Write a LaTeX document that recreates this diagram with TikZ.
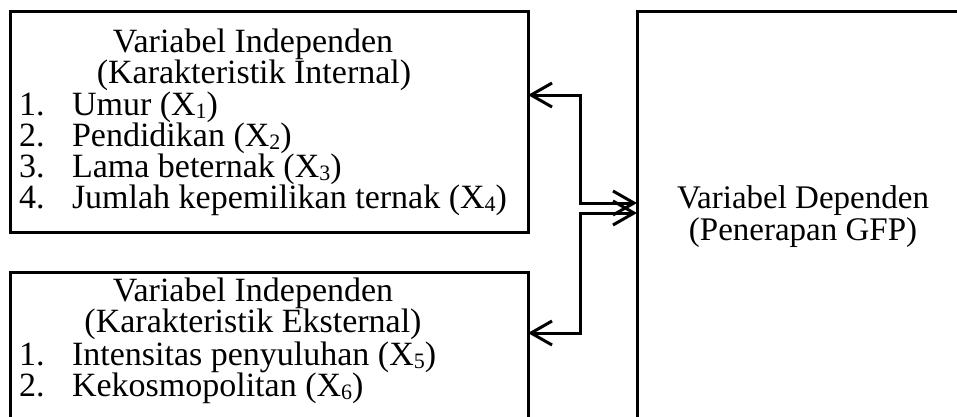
\documentclass[tikz,border=0pt]{standalone}
\usepackage{fontspec}
\setmainfont{Liberation Serif}
\usetikzlibrary{arrows.meta}
\newcommand\subx[1]{\raisebox{-3pt}{\fontsize{22}{22}\selectfont #1}}
\begin{document}
\begin{tikzpicture}[x=1pt,y=-1pt,
  boxstyle/.style={draw,line width=3pt,rectangle,outer sep=0pt,inner sep=0pt,anchor=north west},
  txt/.style={inner sep=0pt,outer sep=0pt,text height=23pt,text depth=7pt,font=\fontsize{34}{31.5}\selectfont},
  dtxt/.style={inner sep=0pt,outer sep=0pt,text height=23pt,text depth=7pt,font=\fontsize{33}{31.5}\selectfont,anchor=base},
  ctxt/.style={txt,anchor=base},
  ltxt/.style={txt,anchor=base west},
  arr/.style={line width=3pt,{Straight Barb[length=21pt,width=24pt,line width=3pt]}-{Straight Barb[length=21pt,width=24pt,line width=3pt]}}]
\clip (0,0) rectangle (957,416);
\fill[white] (0,0) rectangle (957,416);
% boxes
\node[boxstyle,minimum width=518pt,minimum height=221pt] (ind1) at (10,11) {};
\node[boxstyle,minimum width=518pt,minimum height=170pt] (ind2) at (10,272) {};
\node[boxstyle,minimum width=360pt,minimum height=430pt] (dep) at (637,11) {};
% box 1 text
\node[ctxt] (t1a) at (253,52) {Variabel Independen};
\node[ctxt] (t1b) at (254,83) {(Karakteristik Internal)};
\node[ltxt] (n11) at (19,115) {1.};
\node[ltxt] (i11) at (72,115) {Umur (X\subx{1})};
\node[ltxt] (n12) at (19,146) {2.};
\node[ltxt] (i12) at (72,146) {Pendidikan (X\subx{2})};
\node[ltxt] (n13) at (19,177) {3.};
\node[ltxt] (i13) at (72,177) {Lama beternak (X\subx{3})};
\node[ltxt] (n14) at (19,208) {4.};
\node[ltxt] (i14) at (72,208) {Jumlah kepemilikan ternak (X\subx{4})};
% box 2 text
\node[ctxt] (t2a) at (253,301) {Variabel Independen};
\node[ctxt] (t2b) at (253,332) {(Karakteristik Eksternal)};
\node[ltxt] (n21) at (19,365) {1.};
\node[ltxt] (i21) at (72,365) {Intensitas penyuluhan (X\subx{5})};
\node[ltxt] (n22) at (19,396) {2.};
\node[ltxt] (i22) at (72,396) {Kekosmopolitan (X\subx{6})};
% dependent text
\node[dtxt] (d1) at (803,208) {Variabel Dependen};
\node[dtxt] (d2) at (803,240) {(Penerapan GFP)};
% connectors
\coordinate (ja) at (580,95);
\coordinate (jb) at (580,203);
\coordinate (jc) at (580,213);
\coordinate (jd) at (580,333);
\draw[arr] (ja -| ind1.east) -- (ja) -- (jb) -- (jb -| dep.west);
\draw[arr] (jd -| ind2.east) -- (jd) -- (jc) -- (jc -| dep.west);
\end{tikzpicture}
\end{document}
